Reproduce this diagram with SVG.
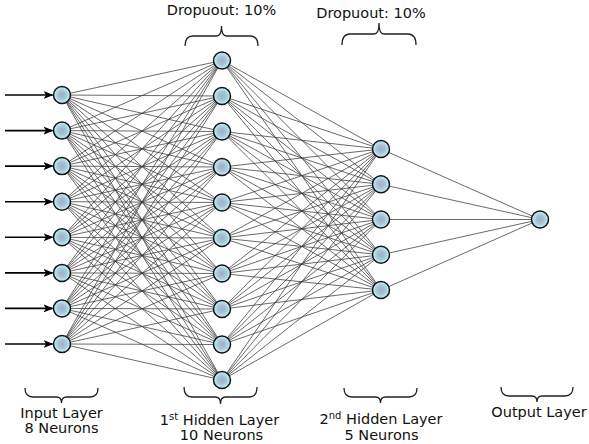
<svg xmlns="http://www.w3.org/2000/svg" width="589" height="444" viewBox="0 0 589 444">
<style>
.c line{stroke:#383838;stroke-width:0.75}
.n circle{fill:url(#g);stroke:#111;stroke-width:1.5}
.br{fill:none;stroke:#222;stroke-width:1.3}
.t{font-family:"DejaVu Sans","Verdana",sans-serif;font-size:14.5px;fill:#111;text-anchor:middle}
.ar{stroke:#000;stroke-width:1.6;marker-end:url(#ah)}
</style>
<defs>
<radialGradient id="g" cx="50%" cy="50%" r="50%">
<stop offset="0" stop-color="#9fb1c3"/>
<stop offset="0.5" stop-color="#a9c4d6"/>
<stop offset="1" stop-color="#c2f6ff"/>
</radialGradient>
<marker id="ah" markerWidth="10" markerHeight="8" refX="9" refY="4" orient="auto" markerUnits="userSpaceOnUse">
<path d="M0 0L10 4L0 8L2.5 4Z" fill="#000"/>
</marker>
</defs>
<rect width="589" height="444" fill="#fff"/>
<g id="connectors" class="c">
<line x1="62" y1="95" x2="222" y2="60.5"/><line x1="62" y1="95" x2="222" y2="96"/><line x1="62" y1="95" x2="222" y2="131.5"/><line x1="62" y1="95" x2="222" y2="167"/><line x1="62" y1="95" x2="222" y2="202.5"/><line x1="62" y1="95" x2="222" y2="238"/><line x1="62" y1="95" x2="222" y2="273.5"/><line x1="62" y1="95" x2="222" y2="309"/><line x1="62" y1="95" x2="222" y2="344.5"/><line x1="62" y1="95" x2="222" y2="380"/>
<line x1="62" y1="130.6" x2="222" y2="60.5"/><line x1="62" y1="130.6" x2="222" y2="96"/><line x1="62" y1="130.6" x2="222" y2="131.5"/><line x1="62" y1="130.6" x2="222" y2="167"/><line x1="62" y1="130.6" x2="222" y2="202.5"/><line x1="62" y1="130.6" x2="222" y2="238"/><line x1="62" y1="130.6" x2="222" y2="273.5"/><line x1="62" y1="130.6" x2="222" y2="309"/><line x1="62" y1="130.6" x2="222" y2="344.5"/><line x1="62" y1="130.6" x2="222" y2="380"/>
<line x1="62" y1="166.1" x2="222" y2="60.5"/><line x1="62" y1="166.1" x2="222" y2="96"/><line x1="62" y1="166.1" x2="222" y2="131.5"/><line x1="62" y1="166.1" x2="222" y2="167"/><line x1="62" y1="166.1" x2="222" y2="202.5"/><line x1="62" y1="166.1" x2="222" y2="238"/><line x1="62" y1="166.1" x2="222" y2="273.5"/><line x1="62" y1="166.1" x2="222" y2="309"/><line x1="62" y1="166.1" x2="222" y2="344.5"/><line x1="62" y1="166.1" x2="222" y2="380"/>
<line x1="62" y1="201.7" x2="222" y2="60.5"/><line x1="62" y1="201.7" x2="222" y2="96"/><line x1="62" y1="201.7" x2="222" y2="131.5"/><line x1="62" y1="201.7" x2="222" y2="167"/><line x1="62" y1="201.7" x2="222" y2="202.5"/><line x1="62" y1="201.7" x2="222" y2="238"/><line x1="62" y1="201.7" x2="222" y2="273.5"/><line x1="62" y1="201.7" x2="222" y2="309"/><line x1="62" y1="201.7" x2="222" y2="344.5"/><line x1="62" y1="201.7" x2="222" y2="380"/>
<line x1="62" y1="237.3" x2="222" y2="60.5"/><line x1="62" y1="237.3" x2="222" y2="96"/><line x1="62" y1="237.3" x2="222" y2="131.5"/><line x1="62" y1="237.3" x2="222" y2="167"/><line x1="62" y1="237.3" x2="222" y2="202.5"/><line x1="62" y1="237.3" x2="222" y2="238"/><line x1="62" y1="237.3" x2="222" y2="273.5"/><line x1="62" y1="237.3" x2="222" y2="309"/><line x1="62" y1="237.3" x2="222" y2="344.5"/><line x1="62" y1="237.3" x2="222" y2="380"/>
<line x1="62" y1="272.9" x2="222" y2="60.5"/><line x1="62" y1="272.9" x2="222" y2="96"/><line x1="62" y1="272.9" x2="222" y2="131.5"/><line x1="62" y1="272.9" x2="222" y2="167"/><line x1="62" y1="272.9" x2="222" y2="202.5"/><line x1="62" y1="272.9" x2="222" y2="238"/><line x1="62" y1="272.9" x2="222" y2="273.5"/><line x1="62" y1="272.9" x2="222" y2="309"/><line x1="62" y1="272.9" x2="222" y2="344.5"/><line x1="62" y1="272.9" x2="222" y2="380"/>
<line x1="62" y1="308.4" x2="222" y2="60.5"/><line x1="62" y1="308.4" x2="222" y2="96"/><line x1="62" y1="308.4" x2="222" y2="131.5"/><line x1="62" y1="308.4" x2="222" y2="167"/><line x1="62" y1="308.4" x2="222" y2="202.5"/><line x1="62" y1="308.4" x2="222" y2="238"/><line x1="62" y1="308.4" x2="222" y2="273.5"/><line x1="62" y1="308.4" x2="222" y2="309"/><line x1="62" y1="308.4" x2="222" y2="344.5"/><line x1="62" y1="308.4" x2="222" y2="380"/>
<line x1="62" y1="344" x2="222" y2="60.5"/><line x1="62" y1="344" x2="222" y2="96"/><line x1="62" y1="344" x2="222" y2="131.5"/><line x1="62" y1="344" x2="222" y2="167"/><line x1="62" y1="344" x2="222" y2="202.5"/><line x1="62" y1="344" x2="222" y2="238"/><line x1="62" y1="344" x2="222" y2="273.5"/><line x1="62" y1="344" x2="222" y2="309"/><line x1="62" y1="344" x2="222" y2="344.5"/><line x1="62" y1="344" x2="222" y2="380"/>
<line x1="222" y1="60.5" x2="381" y2="149"/><line x1="222" y1="60.5" x2="381" y2="184.3"/><line x1="222" y1="60.5" x2="381" y2="219.5"/><line x1="222" y1="60.5" x2="381" y2="254.8"/><line x1="222" y1="60.5" x2="381" y2="290"/>
<line x1="222" y1="96" x2="381" y2="149"/><line x1="222" y1="96" x2="381" y2="184.3"/><line x1="222" y1="96" x2="381" y2="219.5"/><line x1="222" y1="96" x2="381" y2="254.8"/><line x1="222" y1="96" x2="381" y2="290"/>
<line x1="222" y1="131.5" x2="381" y2="149"/><line x1="222" y1="131.5" x2="381" y2="184.3"/><line x1="222" y1="131.5" x2="381" y2="219.5"/><line x1="222" y1="131.5" x2="381" y2="254.8"/><line x1="222" y1="131.5" x2="381" y2="290"/>
<line x1="222" y1="167" x2="381" y2="149"/><line x1="222" y1="167" x2="381" y2="184.3"/><line x1="222" y1="167" x2="381" y2="219.5"/><line x1="222" y1="167" x2="381" y2="254.8"/><line x1="222" y1="167" x2="381" y2="290"/>
<line x1="222" y1="202.5" x2="381" y2="149"/><line x1="222" y1="202.5" x2="381" y2="184.3"/><line x1="222" y1="202.5" x2="381" y2="219.5"/><line x1="222" y1="202.5" x2="381" y2="254.8"/><line x1="222" y1="202.5" x2="381" y2="290"/>
<line x1="222" y1="238" x2="381" y2="149"/><line x1="222" y1="238" x2="381" y2="184.3"/><line x1="222" y1="238" x2="381" y2="219.5"/><line x1="222" y1="238" x2="381" y2="254.8"/><line x1="222" y1="238" x2="381" y2="290"/>
<line x1="222" y1="273.5" x2="381" y2="149"/><line x1="222" y1="273.5" x2="381" y2="184.3"/><line x1="222" y1="273.5" x2="381" y2="219.5"/><line x1="222" y1="273.5" x2="381" y2="254.8"/><line x1="222" y1="273.5" x2="381" y2="290"/>
<line x1="222" y1="309" x2="381" y2="149"/><line x1="222" y1="309" x2="381" y2="184.3"/><line x1="222" y1="309" x2="381" y2="219.5"/><line x1="222" y1="309" x2="381" y2="254.8"/><line x1="222" y1="309" x2="381" y2="290"/>
<line x1="222" y1="344.5" x2="381" y2="149"/><line x1="222" y1="344.5" x2="381" y2="184.3"/><line x1="222" y1="344.5" x2="381" y2="219.5"/><line x1="222" y1="344.5" x2="381" y2="254.8"/><line x1="222" y1="344.5" x2="381" y2="290"/>
<line x1="222" y1="380" x2="381" y2="149"/><line x1="222" y1="380" x2="381" y2="184.3"/><line x1="222" y1="380" x2="381" y2="219.5"/><line x1="222" y1="380" x2="381" y2="254.8"/><line x1="222" y1="380" x2="381" y2="290"/>
<line x1="381" y1="149" x2="540" y2="219.5"/><line x1="381" y1="184.3" x2="540" y2="219.5"/><line x1="381" y1="219.5" x2="540" y2="219.5"/><line x1="381" y1="254.8" x2="540" y2="219.5"/><line x1="381" y1="290" x2="540" y2="219.5"/>
</g>
<g id="inputs">
<line class="ar" x1="5" y1="95" x2="52.5" y2="95"/>
<line class="ar" x1="5" y1="130.6" x2="52.5" y2="130.6"/>
<line class="ar" x1="5" y1="166.1" x2="52.5" y2="166.1"/>
<line class="ar" x1="5" y1="201.7" x2="52.5" y2="201.7"/>
<line class="ar" x1="5" y1="237.3" x2="52.5" y2="237.3"/>
<line class="ar" x1="5" y1="272.9" x2="52.5" y2="272.9"/>
<line class="ar" x1="5" y1="308.4" x2="52.5" y2="308.4"/>
<line class="ar" x1="5" y1="344" x2="52.5" y2="344"/>
</g>
<g id="input-layer" class="n">
<g id="i1"><circle cx="62" cy="95" r="8.5"/></g>
<g id="i2"><circle cx="62" cy="130.6" r="8.5"/></g>
<g id="i3"><circle cx="62" cy="166.1" r="8.5"/></g>
<g id="i4"><circle cx="62" cy="201.7" r="8.5"/></g>
<g id="i5"><circle cx="62" cy="237.3" r="8.5"/></g>
<g id="i6"><circle cx="62" cy="272.9" r="8.5"/></g>
<g id="i7"><circle cx="62" cy="308.4" r="8.5"/></g>
<g id="i8"><circle cx="62" cy="344" r="8.5"/></g>
</g>
<g id="hidden1" class="n">
<g id="h1"><circle cx="222" cy="60.5" r="8.5"/></g>
<g id="h2"><circle cx="222" cy="96" r="8.5"/></g>
<g id="h3"><circle cx="222" cy="131.5" r="8.5"/></g>
<g id="h4"><circle cx="222" cy="167" r="8.5"/></g>
<g id="h5"><circle cx="222" cy="202.5" r="8.5"/></g>
<g id="h6"><circle cx="222" cy="238" r="8.5"/></g>
<g id="h7"><circle cx="222" cy="273.5" r="8.5"/></g>
<g id="h8"><circle cx="222" cy="309" r="8.5"/></g>
<g id="h9"><circle cx="222" cy="344.5" r="8.5"/></g>
<g id="h10"><circle cx="222" cy="380" r="8.5"/></g>
</g>
<g id="hidden2" class="n">
<g id="k1"><circle cx="381" cy="149" r="8.5"/></g>
<g id="k2"><circle cx="381" cy="184.3" r="8.5"/></g>
<g id="k3"><circle cx="381" cy="219.5" r="8.5"/></g>
<g id="k4"><circle cx="381" cy="254.8" r="8.5"/></g>
<g id="k5"><circle cx="381" cy="290" r="8.5"/></g>
</g>
<g id="output" class="n">
<g id="o1"><circle cx="540" cy="219.5" r="8.5"/></g>
</g>
<g id="dropout1">
<text class="t" x="221.5" y="15">Dropuout: 10%</text>
<path class="br" d="M185 46Q185 36 193 36H216.5Q221.5 36 221.5 26Q221.5 36 226.5 36H250Q258 36 258 46"/>
</g>
<g id="dropout2">
<text class="t" x="371" y="17.5">Dropuout: 10%</text>
<path class="br" d="M342 45Q342 34 350 34H374Q379 34 379 23Q379 34 384 34H408Q416 34 416 45"/>
</g>
<g id="label-input">
<path class="br" d="M25 388Q25 397 33 397H56.5Q61.5 397 61.5 403Q61.5 397 66.5 397H90Q98 397 98 388"/>
<text class="t" x="61.5" y="418">Input Layer</text>
<text class="t" x="61.5" y="433">8 Neurons</text>
</g>
<g id="label-hidden1">
<path class="br" d="M184 387Q184 397 192 397H215.5Q220.5 397 220.5 404Q220.5 397 225.5 397H249Q257 397 257 387"/>
<text class="t" x="219.5" y="425">1<tspan font-size="10" dy="-5">st</tspan><tspan dy="5"> Hidden Layer</tspan></text>
<text class="t" x="221.5" y="440">10 Neurons</text>
</g>
<g id="label-hidden2">
<path class="br" d="M344 388Q344 397 352 397H375.5Q380.5 397 380.5 403Q380.5 397 385.5 397H409Q417 397 417 388"/>
<text class="t" x="381" y="424">2<tspan font-size="10" dy="-5">nd</tspan><tspan dy="5"> Hidden Layer</tspan></text>
<text class="t" x="381.5" y="440">5 Neurons</text>
</g>
<g id="label-output">
<path class="br" d="M501 387Q501 396 509 396H532Q537 396 537 402Q537 396 542 396H565Q573 396 573 387"/>
<text class="t" x="539" y="417">Output Layer</text>
</g>
</svg>
